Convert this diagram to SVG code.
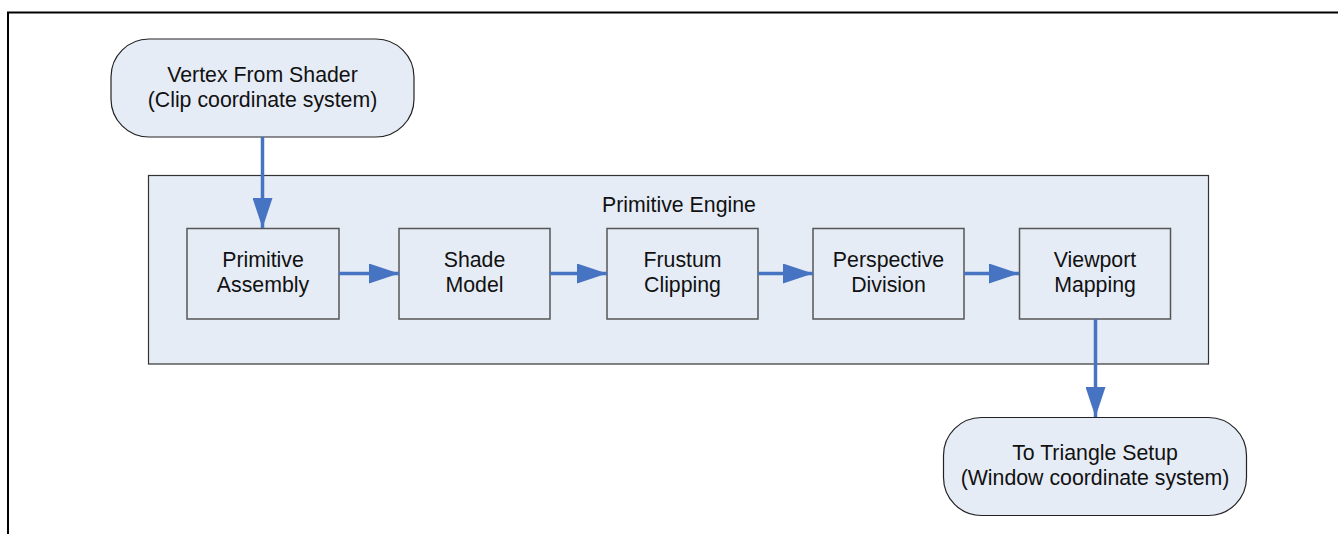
<svg xmlns="http://www.w3.org/2000/svg" width="1338" height="534" viewBox="0 0 1338 534">
<defs>
<style>
.t{font-family:"Liberation Sans",Arial,sans-serif;font-size:21.3px;fill:#111;text-anchor:middle}
.term{fill:#E6ECF6;stroke:#222;stroke-width:1.2}
.box{fill:#E6ECF6;stroke:#555;stroke-width:1.5}
.cont{fill:#E6ECF6;stroke:#333;stroke-width:1.2}
.conn{stroke:#4674C2;stroke-width:3.5;fill:none;marker-end:url(#ah)}
</style>
<marker id="ah" markerUnits="userSpaceOnUse" markerWidth="30" markerHeight="20" refX="30" refY="10" orient="auto">
<path d="M0,0 L30,10 L0,20 Z" fill="#4674C2"/>
</marker>
</defs>
<rect width="1338" height="534" fill="#fff"/>
<path d="M8,534 V12.5 H1338" fill="none" stroke="#000" stroke-width="2"/>
<g id="primitive-engine">
<rect class="cont" x="148.5" y="175.5" width="1060" height="188.5"/>
<text class="t" x="679" y="212">Primitive Engine</text>
</g>
<g id="vertex-from-shader">
<rect class="term" x="111" y="39" width="303" height="98" rx="38" ry="38"/>
<text class="t" x="262.5" y="82">Vertex From Shader</text>
<text class="t" x="262.5" y="107">(Clip coordinate system)</text>
</g>
<g id="primitive-assembly">
<rect class="box" x="187" y="228.5" width="152" height="90.5"/>
<text class="t" x="263" y="267">Primitive</text>
<text class="t" x="263" y="292">Assembly</text>
</g>
<g id="shade-model">
<rect class="box" x="399" y="228.5" width="151" height="90.5"/>
<text class="t" x="474.5" y="267">Shade</text>
<text class="t" x="474.5" y="292">Model</text>
</g>
<g id="frustum-clipping">
<rect class="box" x="607" y="228.5" width="151" height="90.5"/>
<text class="t" x="682.5" y="267">Frustum</text>
<text class="t" x="682.5" y="292">Clipping</text>
</g>
<g id="perspective-division">
<rect class="box" x="813" y="228.5" width="151" height="90.5"/>
<text class="t" x="888.5" y="267">Perspective</text>
<text class="t" x="888.5" y="292">Division</text>
</g>
<g id="viewport-mapping">
<rect class="box" x="1019.5" y="228.5" width="151" height="90.5"/>
<text class="t" x="1095" y="267">Viewport</text>
<text class="t" x="1095" y="292">Mapping</text>
</g>
<g id="to-triangle-setup">
<rect class="term" x="943.5" y="417.5" width="303" height="98" rx="38" ry="38"/>
<text class="t" x="1095" y="460">To Triangle Setup</text>
<text class="t" x="1095" y="485">(Window coordinate system)</text>
</g>
<g id="connectors">
<line class="conn" x1="262.5" y1="137" x2="262.5" y2="228"/>
<line class="conn" x1="339" y1="273.5" x2="399" y2="273.5"/>
<line class="conn" x1="550" y1="273.5" x2="607" y2="273.5"/>
<line class="conn" x1="758" y1="273.5" x2="813" y2="273.5"/>
<line class="conn" x1="964" y1="273.5" x2="1019" y2="273.5"/>
<line class="conn" x1="1095.5" y1="319" x2="1095.5" y2="417"/>
</g>
</svg>
